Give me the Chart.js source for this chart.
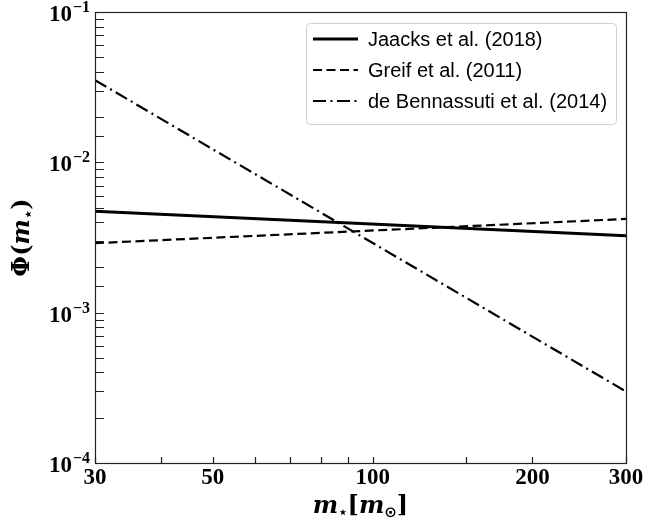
<!DOCTYPE html>
<html>
<head>
<meta charset="utf-8">
<script src="https://cdn.jsdelivr.net/npm/chart.js@4.4.0/dist/chart.umd.min.js"></script>
<style>
  html, body { margin: 0; padding: 0; background: #fff; }
  #wrap { width: 649px; height: 527px; }
</style>
</head>
<body>
<div id="wrap"><canvas id="imfChart" width="649" height="527"></canvas></div>
<script>
// values (log-log power laws, end points)
const massValues = [30, 300];
const jaacksValues = [4.72e-3, 3.25e-3];
const greifValues = [2.90e-3, 4.20e-3];
const bennassutiValues = [3.52e-2, 2.99e-4];
const seriesNames = ["Jaacks et al. (2018)", "Greif et al. (2011)", "de Bennassuti et al. (2014)"];
const xTickLabels = [30, 50, 100, 200, 300];
const yTickValues = [1e-4, 1e-3, 1e-2, 1e-1];
const yTickExponents = ["\u22124", "\u22123", "\u22122", "\u22121"];

const serif = "'DejaVu Serif', serif";
const tickSerif = "'Liberation Serif', serif";
const toPoints = (values) => massValues.map((m, i) => ({ x: m, y: values[i] }));

// draws a run of text pieces (font + vertical offset each), returns width
const drawPieces = (ctx, pieces, x, y, measureOnly) => {
    let cx = x;
    pieces.forEach(p => {
        ctx.font = p.font;
        if (!measureOnly) ctx.fillText(p.text, cx, y + (p.dy || 0));
        cx += ctx.measureText(p.text).width + (p.gap || 0);
    });
    return cx - x;
}

const drawCentered = (ctx, pieces, x, y) => {
    const w = drawPieces(ctx, pieces, 0, 0, true);
    drawPieces(ctx, pieces, x - w / 2, y, false);
}

const framePlugin = {
    id: "frame",
    afterDraw(chart) {
        const { ctx, chartArea: a, scales: { x, y } } = chart;
        ctx.save();
        ctx.strokeStyle = "#222";
        ctx.fillStyle = "#000";
        ctx.lineWidth = 1.2;
        ctx.setLineDash([]);
        // inward tick marks
        ctx.beginPath();
        x.ticks.forEach(t => {
            const px = Math.round(x.getPixelForValue(t.value)) + 0.5;
            ctx.moveTo(px, a.bottom);
            ctx.lineTo(px, a.bottom - 6);
        });
        y.ticks.forEach(t => {
            const py = Math.round(y.getPixelForValue(t.value)) + 0.5;
            ctx.moveTo(a.left, py);
            ctx.lineTo(a.left + 9, py);
        });
        ctx.stroke();
        ctx.strokeRect(a.left + 0.5, a.top + 0.5, a.right - a.left, a.bottom - a.top);

        // y tick labels 10^n
        ctx.textBaseline = "alphabetic";
        ctx.textAlign = "left";
        yTickValues.forEach((v, i) => {
            const py = y.getPixelForValue(v);
            const pieces = [
                { text: "10", font: "bold 23px " + tickSerif, dy: 9, gap: 1 },
                { text: yTickExponents[i], font: "bold 16px " + tickSerif, dy: 0 }
            ];
            const w = drawPieces(ctx, pieces, 0, 0, true);
            drawPieces(ctx, pieces, a.left - 5 - w, py, false);
        });

        // axis titles
        const big = "bold 24px " + serif;
        const bigIt = "italic bold 24px " + serif;
        const small = "bold 15px 'DejaVu Sans', sans-serif";
        ctx.save();
        ctx.translate(29, (a.top + a.bottom) / 2);
        ctx.rotate(-Math.PI / 2);
        drawCentered(ctx, [
            { text: "\u03A6(", font: big },
            { text: "m", font: bigIt },
            { text: "\u22C6", font: small, dy: 4 },
            { text: ")", font: big }
        ], 0, 0);
        ctx.restore();
        drawCentered(ctx, [
            { text: "m", font: bigIt },
            { text: "\u22C6", font: small, dy: 4 },
            { text: "[", font: big },
            { text: "m", font: bigIt },
            { text: "\u2299", font: small, dy: 4 },
            { text: "]", font: big }
        ], (a.left + a.right) / 2, 513);

        // legend box
        const lx = 306, ly = 23, lw = 310, lh = 101;
        ctx.beginPath();
        ctx.roundRect(lx + 0.5, ly + 0.5, lw, lh, 4);
        ctx.fillStyle = "rgba(255,255,255,0.8)";
        ctx.fill();
        ctx.lineWidth = 1;
        ctx.strokeStyle = "#d0d0d0";
        ctx.stroke();
        ctx.fillStyle = "#000";
        ctx.font = "20px 'Liberation Sans', sans-serif";
        ctx.textBaseline = "middle";
        chart.data.datasets.forEach((ds, i) => {
            const ry = 39 + i * 31;
            ctx.beginPath();
            ctx.strokeStyle = ds.borderColor;
            ctx.lineWidth = ds.borderWidth;
            ctx.setLineDash(ds.borderDash || []);
            ctx.moveTo(313, ry);
            ctx.lineTo(358, ry);
            ctx.stroke();
            ctx.fillText(ds.label, 368, ry + 1);
        });
        ctx.restore();
    }
};

const createChart = () => {
    const data = {
        datasets: [{
            label: seriesNames[0],
            data: toPoints(jaacksValues),
            borderColor: "#000",
            borderWidth: 3,
        }, {
            label: seriesNames[1],
            data: toPoints(greifValues),
            borderColor: "#000",
            borderWidth: 2.2,
            borderDash: [9, 4.5],
        }, {
            label: seriesNames[2],
            data: toPoints(bennassutiValues),
            borderColor: "#000",
            borderWidth: 2.2,
            borderDash: [13, 4.5, 2, 4.5],
        }]
    };
    const config = {
        type: "scatter",
        data: data,
        plugins: [framePlugin],
        options: {
            responsive: false,
            animation: false,
            showLine: true,
            elements: { point: { radius: 0 }, line: { tension: 0 } },
            layout: { padding: { top: 12, right: 23, left: 0, bottom: 0 } },
            plugins: { legend: { display: false }, tooltip: { enabled: false } },
            scales: {
                x: {
                    type: "logarithmic",
                    min: 30,
                    max: 300,
                    grid: { display: false, drawTicks: false },
                    border: { display: false },
                    ticks: {
                        autoSkip: false,
                        maxRotation: 0,
                        padding: 4,
                        color: "#000",
                        font: { family: tickSerif, size: 23, weight: "bold", lineHeight: 1 },
                        callback: (v) => xTickLabels.includes(Math.round(v)) ? String(Math.round(v)) : ""
                    },
                    afterFit: (scale) => { scale.height = 64; }
                },
                y: {
                    type: "logarithmic",
                    min: 1e-4,
                    max: 1e-1,
                    grid: { display: false },
                    border: { display: false },
                    ticks: { display: false, autoSkip: false },
                    afterFit: (scale) => { scale.width = 95; }
                }
            }
        }
    };
    return new Chart(document.getElementById("imfChart"), config);
}

createChart();
</script>
</body>
</html>
